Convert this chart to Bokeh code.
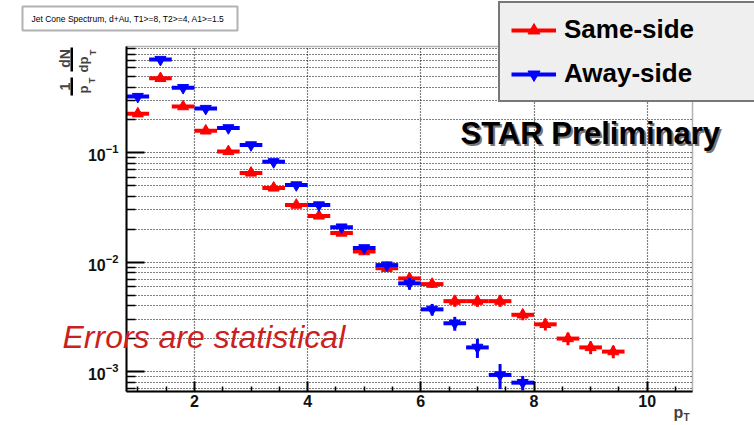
import math
import numpy as np
from bokeh.plotting import figure
from bokeh.models import (Range1d, FixedTicker, Label, Legend, LegendItem,
                          BoxAnnotation, ColumnDataSource)
from bokeh.embed import file_html
from bokeh.resources import INLINE

# ---------------- data ----------------
pt_bins = [1.0, 1.4, 1.8, 2.2, 2.6, 3.0, 3.4, 3.8, 4.2, 4.6, 5.0, 5.4,
           5.8, 6.2, 6.6, 7.0, 7.4, 7.8, 8.2, 8.6, 9.0, 9.4]
bin_half_width = 0.2

same_side = [0.228, 0.480, 0.265, 0.159, 0.103, 0.0655, 0.0478, 0.0333,
             0.0265, 0.0185, 0.0125, 0.0088, 0.0071, 0.0063, 0.0044, 0.0044,
             0.0044, 0.0033, 0.0027, 0.0020, 0.00166, 0.00152]
same_side_err = [0.008, 0.015, 0.009, 0.005, 0.004, 0.0025, 0.002, 0.0015,
                 0.0013, 0.001, 0.0007, 0.0005, 0.0005, 0.0005, 0.0005, 0.0005,
                 0.0005, 0.00036, 0.00033, 0.00026, 0.00022, 0.0002]

away_side = [0.327, 0.713, 0.394, 0.254, 0.169, 0.118, 0.0827, 0.0508,
             0.0333, 0.0209, 0.0135, 0.0094, 0.0064, 0.0037, 0.00276, 0.00166,
             0.00093, 0.00079]
away_side_err = [0.01, 0.02, 0.012, 0.008, 0.006, 0.004, 0.003, 0.002,
                 0.0015, 0.0011, 0.0008, 0.0007, 0.0008, 0.00045, 0.0004,
                 0.00033, 0.00024, 0.00012]

x_range_plot = (0.8, 10.8)
y_range_plot = (6.56e-4, 0.939)
x_major_ticks = [2, 4, 6, 8, 10]
x_minor_ticks = [1.0, 1.5, 2.5, 3.0, 3.5, 4.5, 5.0, 5.5, 6.5, 7.0, 7.5,
                 8.5, 9.0, 9.5, 10.5]
y_major_ticks = [1e-3, 1e-2, 1e-1]
y_minor_ticks = [k * 10.0 ** e for e in (-4, -3, -2, -1) for k in range(2, 10)
                 if y_range_plot[0] <= k * 10.0 ** e <= y_range_plot[1]]

title_text = "Jet Cone Spectrum, d+Au, T1>=8, T2>=4, A1>=1.5"
series_names = ["Same-side", "Away-side"]
RED = "#ff0000"
BLUE = "#0000ff"
FONT = "Liberation Sans"

# ---------------- geometry (pixels) ----------------
W, H = 754, 425
FL, FR, FT, FB = 126, 692, 46, 391   # drawn frame of the histogram

px_per_x = (FR - FL) / (x_range_plot[1] - x_range_plot[0])
px_per_dec = (FB - FT) / (math.log10(y_range_plot[1]) - math.log10(y_range_plot[0]))
x_start = x_range_plot[0] - FL / px_per_x
x_end = x_range_plot[1] + (W - FR) / px_per_x
y_end = y_range_plot[1] * 10 ** (FT / px_per_dec)
y_start = y_range_plot[0] / 10 ** ((H - FB) / px_per_dec)


def dx(px):
    return x_start + px / px_per_x


def dy(py):
    return 10 ** (math.log10(y_end) - py / px_per_dec)


p = figure(width=W, height=H, title=None,
           x_range=Range1d(x_start, x_end), y_range=Range1d(y_start, y_end),
           y_axis_type="log", output_backend="svg", toolbar_location=None,
           min_border_left=0, min_border_right=0,
           min_border_top=0, min_border_bottom=0)
p.background_fill_color = "white"
p.border_fill_color = "white"
p.outline_line_color = None

# axes drawn at the histogram frame edges
p.xaxis.fixed_location = y_range_plot[0]
p.yaxis.fixed_location = x_range_plot[0]
p.xaxis.bounds = x_range_plot
p.yaxis.bounds = y_range_plot
p.xaxis.ticker = FixedTicker(ticks=x_major_ticks, minor_ticks=x_minor_ticks)
p.yaxis.ticker = FixedTicker(ticks=y_major_ticks, minor_ticks=y_minor_ticks)
for ax in (p.xaxis, p.yaxis):
    ax.axis_line_width = 2
    ax.axis_line_color = "black"
    ax.major_tick_line_color = "black"
    ax.minor_tick_line_color = "black"
    ax.major_tick_line_width = 2
    ax.minor_tick_line_width = 1.5
    ax.major_tick_out = 0
    ax.minor_tick_out = 0
    ax.major_label_text_font = FONT
    ax.major_label_text_font_style = "bold"
    ax.major_label_text_color = "#111111"
p.xaxis.major_tick_in = 10
p.xaxis.minor_tick_in = 5
p.yaxis.major_tick_in = 18
p.yaxis.minor_tick_in = 9
p.xaxis.major_label_text_font_size = "16px"
p.yaxis.major_label_text_font_size = "16px"
p.xaxis.major_label_standoff = 3
p.yaxis.major_label_standoff = 8

# grids (dotted)
p.xgrid.ticker = FixedTicker(ticks=x_major_ticks)
p.xgrid.grid_line_color = "black"
p.xgrid.grid_line_dash = "1 2"
p.xgrid.grid_line_width = 1.2
p.ygrid.grid_line_color = "black"
p.ygrid.grid_line_dash = "1 2"
p.ygrid.grid_line_width = 1.2
p.ygrid.minor_grid_line_color = "black"
p.ygrid.minor_grid_line_dash = "1 2"
p.ygrid.minor_grid_line_width = 1.2
if "cross_bounds" in p.xgrid[0].properties():
    p.xgrid.cross_bounds = y_range_plot
    p.ygrid.cross_bounds = x_range_plot

# white masks outside the histogram frame (over the grid, under everything else)
far_l, far_r = dx(-20), dx(W + 20)
far_t, far_b = dy(-20), dy(H + 20)
for kw in (dict(left=far_l, right=x_range_plot[0], bottom=far_b, top=far_t),
           dict(left=x_range_plot[1], right=far_r, bottom=far_b, top=far_t),
           dict(left=far_l, right=far_r, bottom=y_range_plot[1], top=far_t),
           dict(left=far_l, right=far_r, bottom=far_b, top=y_range_plot[0])):
    p.add_layout(BoxAnnotation(fill_color="white", fill_alpha=1, line_color=None,
                               level="underlay", **kw))
# frame outline
p.add_layout(BoxAnnotation(left=x_range_plot[0], right=x_range_plot[1],
                           bottom=y_range_plot[0], top=y_range_plot[1],
                           fill_alpha=0, line_color="black", line_width=1.5,
                           level="underlay"))


def make_source(yvals, errs):
    n = len(yvals)
    x = np.array(pt_bins[:n])
    y = np.array(yvals)
    e = np.array(errs)
    return ColumnDataSource(dict(x=x, y=y, x0=x - bin_half_width,
                                 x1=x + bin_half_width, lo=y - e, hi=y + e))


src_same = make_source(same_side, same_side_err)
src_away = make_source(away_side, away_side_err)

r_same_h = p.segment(x0="x0", y0="y", x1="x1", y1="y", source=src_same,
                     line_color=RED, line_width=4)
p.segment(x0="x", y0="lo", x1="x", y1="hi", source=src_same,
          line_color=RED, line_width=3)
r_same_pt = p.scatter(x="x", y="y", source=src_same, marker="triangle",
                      size=11, fill_color=RED, line_color=RED)

r_away_h = p.segment(x0="x0", y0="y", x1="x1", y1="y", source=src_away,
                     line_color=BLUE, line_width=4)
p.segment(x0="x", y0="lo", x1="x", y1="hi", source=src_away,
          line_color=BLUE, line_width=3)
r_away_pt = p.scatter(x="x", y="y", source=src_away,
                      marker="inverted_triangle", size=11,
                      fill_color=BLUE, line_color=BLUE)

# STAR Preliminary (with shadow)
for off, col in ((2, "#777777"), (0, "black")):
    p.add_layout(Label(x=dx(460 + off), y=dy(133 + off), text="STAR Preliminary",
                       text_font=FONT, text_font_style="bold",
                       text_font_size="31px", text_color=col,
                       text_baseline="alphabetic"))

legend = Legend(items=[LegendItem(label=series_names[0], renderers=[r_same_h, r_same_pt]),
                       LegendItem(label=series_names[1], renderers=[r_away_h, r_away_pt])],
                location=(498, H - 102), margin=0, padding=11,
                spacing=13, glyph_width=45, glyph_height=30,
                label_height=30, label_width=250, label_standoff=8,
                label_text_font=FONT, label_text_font_style="bold",
                label_text_font_size="26px", label_text_color="black",
                border_line_color="black", border_line_width=2,
                background_fill_color="#efefef", background_fill_alpha=1)
p.add_layout(legend)

# title box
p.add_layout(BoxAnnotation(left=dx(22), right=dx(237), top=dy(6), bottom=dy(30),
                           fill_color="white", fill_alpha=1,
                           line_color="black", line_width=2))
p.add_layout(Label(x=dx(31), y=dy(18), text=title_text, text_font=FONT,
                   text_font_size="8.5px", text_baseline="middle",
                   text_color="black"))

# Errors are statistical
p.add_layout(Label(x=dx(62), y=dy(336), text="Errors are statistical",
                   text_font=FONT, text_font_style="italic",
                   text_font_size="32px", text_color="#cc1f1f",
                   text_baseline="alphabetic"))

# x-axis title p_T
p.add_layout(Label(x=dx(673), y=dy(412), text="p", text_font=FONT,
                   text_font_style="bold", text_font_size="16px",
                   text_baseline="alphabetic"))
p.add_layout(Label(x=dx(683), y=dy(417), text="T", text_font=FONT,
                   text_font_style="bold", text_font_size="10px",
                   text_baseline="alphabetic"))

# y-axis title 1/p_T dN/dp_T (rotated)
rot = math.pi / 2
for txt, cx, cy, fs in (("dN", 64, 58, "14px"), ("1", 64, 86, "14px"),
                        ("dp", 83, 64, "13px"), ("p", 83, 89, "13px"),
                        ("T", 92, 52, "9px"), ("T", 91, 80, "9px")):
    p.add_layout(Label(x=dx(cx), y=dy(cy), text=txt, angle=rot, text_font=FONT,
                       text_font_style="bold", text_font_size=fs,
                       text_align="center", text_baseline="middle"))
for top, bot in ((47, 71), (77, 95)):
    p.add_layout(BoxAnnotation(left=dx(70), right=dx(72.5), top=dy(top),
                               bottom=dy(bot), fill_color="black", fill_alpha=1,
                               line_color=None))

open("out.html", "w").write(file_html(p, INLINE))
